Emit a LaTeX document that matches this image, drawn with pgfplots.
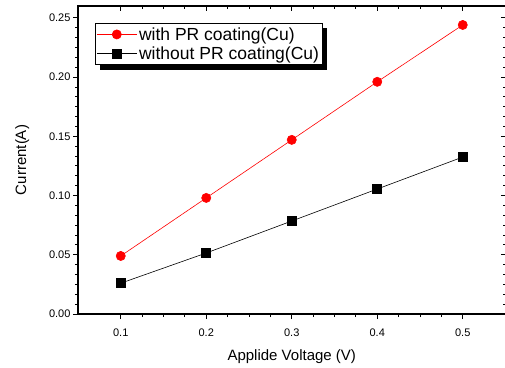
\documentclass[border=0pt]{standalone}
\usepackage{pgfplots}
\pgfplotsset{compat=1.18}
\usepackage{fontspec}
\setmainfont{Liberation Sans}
\begin{document}
\begin{tikzpicture}
\useasboundingbox (-78pt,-53pt) rectangle (427pt,314pt);
\pgfplotsset{
  common/.style={
    scale only axis, width=427.5pt, height=308pt,
    xmin=0.05, xmax=0.55, ymin=0, ymax=0.26,
    xtick={0.1,0.2,0.3,0.4,0.5},
    ytick={0,0.05,0.1,0.15,0.2,0.25},
    minor x tick num=3, minor y tick num=5,
    major tick length=5pt, minor tick length=3pt,
    axis line style={line width=1.2pt},
    every tick/.style={black, line width=1pt},
    every minor tick/.style={black, line width=0.9pt},
  }
}
\begin{axis}[common,
  tick pos=left, tick align=outside,
  /pgf/number format/assume math mode=true,
  ticklabel style={font=\fontsize{11}{13}\selectfont},
  yticklabel style={xshift=1pt, /pgf/number format/.cd, fixed, fixed zerofill, precision=2},
  xticklabel style={yshift=-6pt, /pgf/number format/.cd, fixed, precision=1},
  xlabel={Applide Voltage (V)},
  ylabel={Current(A)},
  label style={font=\fontsize{15}{17}\selectfont},
  xlabel style={yshift=-6pt},
  ylabel style={yshift=13pt},
  legend cell align=left,
  legend style={at={(0.04,0.945)}, anchor=north west, name=leg,
    draw=black, line width=0.8pt, fill=white,
    font=\fontsize{17.5}{18}\selectfont,
    inner xsep=1pt, inner ysep=1.5pt,
    nodes={inner xsep=2pt, inner ysep=2.5pt},
    row sep=0pt},
  legend image code/.code={\draw[mark repeat=2,mark phase=2,#1] plot coordinates {(0pt,0pt)(20pt,0pt)(40pt,0pt)};},
]
\addplot[red, line width=0.6pt, mark=*, mark size=4.6pt, mark options={fill=red, draw=red}]
  coordinates {(0.1,0.049)(0.2,0.098)(0.3,0.147)(0.4,0.196)(0.5,0.244)};
\addlegendentry{with PR coating(Cu)}
\addplot[black, line width=0.6pt, mark=square*, mark size=4.5pt, mark options={fill=black, draw=black}]
  coordinates {(0.1,0.026)(0.2,0.0515)(0.3,0.0785)(0.4,0.1055)(0.5,0.1325)};
\addlegendentry{without PR coating(Cu)}
\end{axis}
\fill[black] ([xshift=0pt,yshift=-5pt]leg.north east) rectangle ([xshift=5pt,yshift=-5pt]leg.south east);
\fill[black] ([xshift=5pt]leg.south west) rectangle ([xshift=5pt,yshift=-5pt]leg.south east);
\begin{axis}[common,
  tick pos=right, tick align=inside,
  xticklabels={}, yticklabels={},
]
\end{axis}
\end{tikzpicture}
\end{document}
